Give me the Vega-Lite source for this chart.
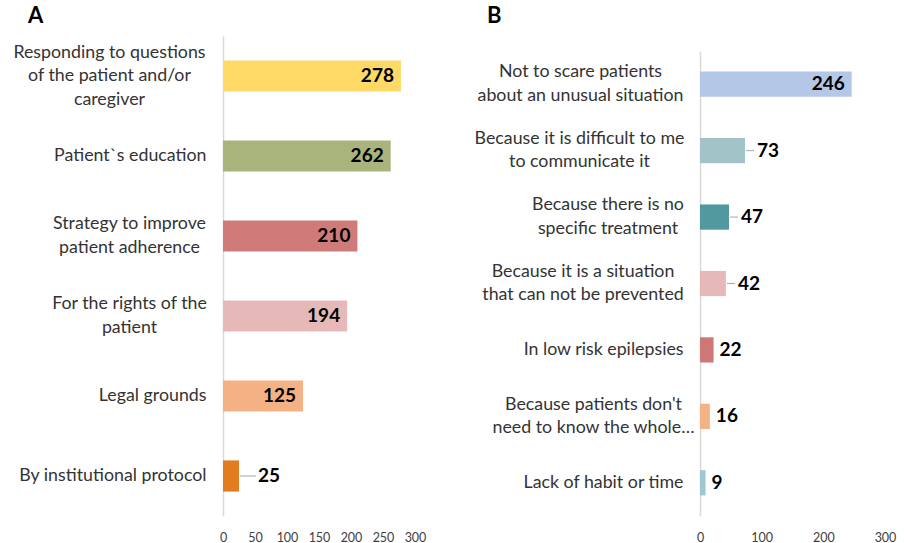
{
  "$schema": "https://vega.github.io/schema/vega-lite/v6.json",
  "background": "white",
  "padding": {"left": 12, "top": 5, "right": 8, "bottom": 0},
  "spacing": 48,
  "config": {"view": {"stroke": null}, "font": "Lato", "text": {"font": "Lato"}, "axisX": {"labelOverlap": false, "labelFlush": false}},
  "resolve": {"scale": {"color": "independent", "x": "independent", "y": "independent"}},
  "hconcat": [
    {
      "width": 192,
      "height": 480,
      "title": {"text": "A", "anchor": "start", "frame": "bounds", "fontSize": 22, "fontWeight": "bold", "font": "Lato", "color": "#000000", "offset": 8, "dx": 15},
      "data": {"values": [
        {"category": "Responding to questions|of the patient and/or|caregiver", "count": 278},
        {"category": "Patient`s education", "count": 262},
        {"category": "Strategy to improve|patient adherence", "count": 210},
        {"category": "For the rights of the|patient", "count": 194},
        {"category": "Legal grounds", "count": 125},
        {"category": "By institutional protocol", "count": 25}
      ]},
      "encoding": {
        "y": {"field": "category", "type": "nominal", "sort": null,
          "scale": {"paddingInner": 0.61, "paddingOuter": 0.305},
          "axis": {"title": null, "labelExpr": "split(datum.label, '|')", "labelFontSize": 17.8, "labelLineHeight": 23.5, "labelColor": "#333333", "labelFont": "Lato", "labelLimit": 300, "ticks": false, "domainColor": "#d9d9d9", "domainWidth": 1.5,
            "labelAlign": {"condition": {"test": "indexof(datum.value, '|') >= 0", "value": "center"}, "value": "right"},
            "labelPadding": {"condition": [
              {"test": "indexof(datum.value, 'Responding') == 0", "value": 114},
              {"test": "indexof(datum.value, 'Strategy') == 0", "value": 94},
              {"test": "indexof(datum.value, 'For the rights') == 0", "value": 94}], "value": 17},
            "labelOffset": {"condition": [{"test": "length(split(datum.value, '|')) == 3", "value": -23.5}, {"test": "length(split(datum.value, '|')) == 2", "value": -11.75}], "value": 0}}},
        "x": {"field": "count", "type": "quantitative", "scale": {"domain": [0, 300], "nice": false},
          "axis": {"title": null, "values": [0, 50, 100, 150, 200, 250, 300], "grid": false, "domain": false, "ticks": false, "labelFlush": false, "labelOverlap": false, "labelFontSize": 12.5, "labelColor": "#404040", "labelPadding": 15, "labelFont": "Lato"}}
      },
      "layer": [
        {
          "mark": {"type": "bar"},
          "encoding": {
            "color": {"field": "category", "type": "nominal", "legend": null,
              "scale": {"domain": ["Responding to questions|of the patient and/or|caregiver", "Patient`s education", "Strategy to improve|patient adherence", "For the rights of the|patient", "Legal grounds", "By institutional protocol"],
                "range": ["#FFD966", "#A9B47C", "#CF7B7A", "#E6B9B8", "#F4B183", "#E37C1F"]}}
          }
        },
        {
          "transform": [{"filter": "datum.count >= 100"}],
          "mark": {"type": "text", "align": "right", "baseline": "middle", "dx": -7, "fontSize": 19, "fontWeight": "bold", "color": "#000000"},
          "encoding": {"text": {"field": "count"}}
        },
        {
          "transform": [{"filter": "datum.count < 100 && datum.count >= 25"}],
          "mark": {"type": "rule", "color": "#a6a6a6", "strokeWidth": 1, "xOffset": 1, "x2Offset": 17},
          "encoding": {"x2": {"field": "count"}}
        },
        {
          "transform": [{"filter": "datum.count < 100"}],
          "mark": {"type": "text", "align": "left", "baseline": "middle", "dx": 19, "fontSize": 19, "fontWeight": "bold", "color": "#000000"},
          "encoding": {"text": {"field": "count"}}
        }
      ]
    },
    {
      "width": 185,
      "height": 480,
      "title": {"text": "B", "anchor": "start", "frame": "bounds", "fontSize": 22, "fontWeight": "bold", "font": "Lato", "color": "#000000", "offset": 8, "dx": 13},
      "data": {"values": [
        {"category": "Not to scare patients|about an unusual situation", "count": 246},
        {"category": "Because it is difficult to me|to communicate it", "count": 73},
        {"category": "Because there is no|specific treatment", "count": 47},
        {"category": "Because it is a situation|that can not be prevented", "count": 42},
        {"category": "In low risk epilepsies", "count": 22},
        {"category": "Because patients don't|need to know the whole…", "count": 16},
        {"category": "Lack of habit or time", "count": 9}
      ]},
      "encoding": {
        "y": {"field": "category", "type": "nominal", "sort": null,
          "scale": {"range": [15, 480], "paddingInner": 0.62, "paddingOuter": 0.31},
          "axis": {"title": null, "labelExpr": "split(datum.label, '|')", "labelFontSize": 17.8, "labelLineHeight": 23.5, "labelColor": "#333333", "labelFont": "Lato", "labelLimit": 300, "ticks": false, "domainColor": "#d9d9d9", "domainWidth": 1.5,
            "labelAlign": {"condition": {"test": "indexof(datum.value, '|') >= 0", "value": "center"}, "value": "right"},
            "labelPadding": {"condition": [
              {"test": "indexof(datum.value, 'Not to scare') == 0", "value": 120},
              {"test": "indexof(datum.value, 'Because it is difficult') == 0", "value": 121},
              {"test": "indexof(datum.value, 'Because there is no') == 0", "value": 92.5},
              {"test": "indexof(datum.value, 'Because it is a situation') == 0", "value": 117.5},
              {"test": "indexof(datum.value, 'Because patients') == 0", "value": 107}], "value": 17},
            "labelOffset": {"condition": [{"test": "length(split(datum.value, '|')) == 3", "value": -23.5}, {"test": "length(split(datum.value, '|')) == 2", "value": -11.75}], "value": 0}}},
        "x": {"field": "count", "type": "quantitative", "scale": {"domain": [0, 300], "nice": false},
          "axis": {"title": null, "values": [0, 100, 200, 300], "grid": false, "domain": false, "ticks": false, "labelFlush": false, "labelOverlap": false, "labelFontSize": 12.5, "labelColor": "#404040", "labelPadding": 15, "labelFont": "Lato"}}
      },
      "layer": [
        {
          "mark": {"type": "bar"},
          "encoding": {
            "color": {"field": "category", "type": "nominal", "legend": null,
              "scale": {"domain": ["Not to scare patients|about an unusual situation", "Because it is difficult to me|to communicate it", "Because there is no|specific treatment", "Because it is a situation|that can not be prevented", "In low risk epilepsies", "Because patients don't|need to know the whole…", "Lack of habit or time"],
                "range": ["#B4C7E7", "#A2C4C9", "#51999F", "#E6B9B8", "#CF7777", "#F4B183", "#A0C6CF"]}}
          }
        },
        {
          "transform": [{"filter": "datum.count >= 100"}],
          "mark": {"type": "text", "align": "right", "baseline": "middle", "dx": -7, "fontSize": 19, "fontWeight": "bold", "color": "#000000"},
          "encoding": {"text": {"field": "count"}}
        },
        {
          "transform": [{"filter": "datum.count < 100 && datum.count >= 25"}],
          "mark": {"type": "rule", "color": "#a6a6a6", "strokeWidth": 1, "xOffset": 1, "x2Offset": 9},
          "encoding": {"x2": {"field": "count"}}
        },
        {
          "transform": [{"filter": "datum.count < 100 && datum.count >= 25"}],
          "mark": {"type": "text", "align": "left", "baseline": "middle", "dx": 12, "fontSize": 19, "fontWeight": "bold", "color": "#000000"},
          "encoding": {"text": {"field": "count"}}
        },
        {
          "transform": [{"filter": "datum.count < 25"}],
          "mark": {"type": "text", "align": "left", "baseline": "middle", "dx": 6, "fontSize": 19, "fontWeight": "bold", "color": "#000000"},
          "encoding": {"text": {"field": "count"}}
        }
      ]
    }
  ]
}
